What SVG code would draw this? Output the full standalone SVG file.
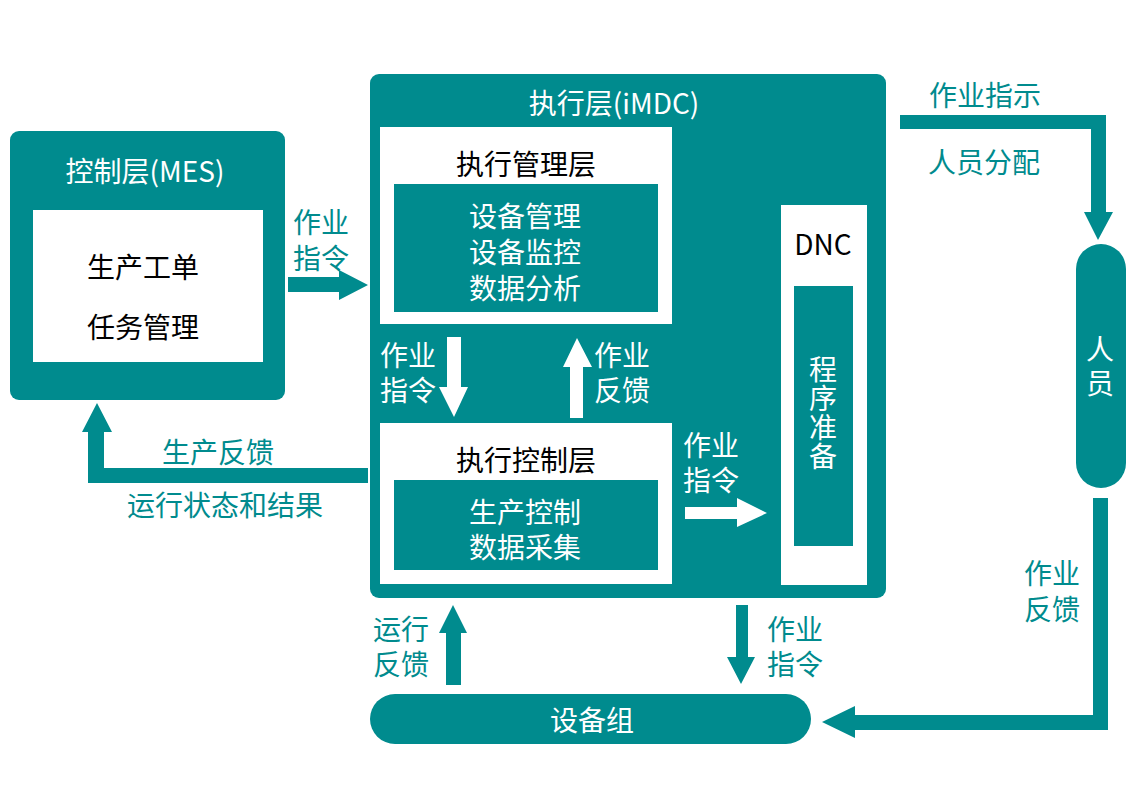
<svg xmlns="http://www.w3.org/2000/svg" width="1145" height="810" viewBox="0 0 1145 810">
<style>
.t{font-family:"Noto Sans CJK SC","Noto Sans",sans-serif;font-size:28px;text-anchor:middle;dominant-baseline:central}
.v{writing-mode:vertical-rl;letter-spacing:1px}
.w{fill:#ffffff}
.k{fill:#000000}
.c{fill:#008b8e}
.tf{fill:#008b8e}
.wf{fill:#ffffff}
</style>
<rect width="1145" height="810" fill="#ffffff"/>
<g id="mes">
<rect x="10" y="131" width="275" height="269" rx="9" class="tf"/>
<rect x="33" y="210" width="230" height="152" class="wf"/>
<text x="145" y="170" class="t w">控制层(MES)</text>
<text class="t k"><tspan x="143" y="266">生产工单</tspan><tspan x="143" y="326">任务管理</tspan></text>
</g>
<g id="imdc">
<rect x="370" y="74" width="516" height="524" rx="9" class="tf"/>
<text x="614" y="102" class="t w">执行层(iMDC)</text>
</g>
<g id="exec-mgmt">
<rect x="380" y="127" width="292" height="197" class="wf"/>
<rect x="394" y="184" width="264" height="128" class="tf"/>
<text x="526" y="163" class="t k">执行管理层</text>
<text class="t w"><tspan x="525" y="215">设备管理</tspan><tspan x="525" y="251">设备监控</tspan><tspan x="525" y="287">数据分析</tspan></text>
</g>
<g id="exec-ctrl">
<rect x="380" y="423" width="292" height="161" class="wf"/>
<rect x="394" y="480" width="264" height="90" class="tf"/>
<text x="526" y="459" class="t k">执行控制层</text>
<text class="t w"><tspan x="525" y="511">生产控制</tspan><tspan x="525" y="546">数据采集</tspan></text>
</g>
<g id="dnc">
<rect x="781" y="205" width="86" height="380" class="wf"/>
<rect x="794" y="286" width="59" height="260" class="tf"/>
<text x="823" y="243" class="t k">DNC</text>
<text x="823" y="413" class="t v w">程序准备</text>
</g>
<g id="person">
<rect x="1076" y="244" width="50" height="244" rx="25" class="tf"/>
<text x="1100" y="369" class="t w" style="writing-mode:vertical-rl;letter-spacing:6px">人员</text>
</g>
<g id="equipment">
<rect x="370" y="694" width="441" height="50" rx="25" class="tf"/>
<text x="592" y="719" class="t w">设备组</text>
</g>
<g id="connectors">
<polygon points="288,277 339,277 339,270 368,285 339,300 339,292 288,292" class="tf"/>
<text class="t c"><tspan x="321" y="221">作业</tspan><tspan x="321" y="257">指令</tspan></text>
<polygon points="368,468 368,483 88,483 88,432 82,432 97,403 112,432 104,432 104,468" class="tf"/>
<text x="218" y="451" class="t c">生产反馈</text>
<text x="225" y="504" class="t c">运行状态和结果</text>
<polygon points="447,337 461,337 461,387 468,387 454,417 439,387 447,387" class="wf"/>
<text class="t w"><tspan x="408" y="354">作业</tspan><tspan x="408" y="389">指令</tspan></text>
<polygon points="570,418 583,418 583,367 592,367 577,338 563,367 570,367" class="wf"/>
<text class="t w"><tspan x="622" y="354">作业</tspan><tspan x="622" y="389">反馈</tspan></text>
<polygon points="685,507 737,507 737,498 767,513 737,527 737,519 685,519" class="wf"/>
<text class="t w"><tspan x="711" y="444">作业</tspan><tspan x="711" y="479">指令</tspan></text>
<polygon points="900,115 1106,115 1106,212 1113,212 1098,240 1084,212 1091,212 1091,129 900,129" class="tf"/>
<text x="985" y="94" class="t c">作业指示</text>
<text x="984" y="161" class="t c">人员分配</text>
<polygon points="1093,498 1108,498 1108,730 855,730 855,738 822,722 855,706 855,715 1093,715" class="tf"/>
<text class="t c"><tspan x="1052" y="572">作业</tspan><tspan x="1052" y="608">反馈</tspan></text>
<polygon points="446,685 461,685 461,633 467,633 453,605 439,633 446,633" class="tf"/>
<text class="t c"><tspan x="401" y="628">运行</tspan><tspan x="401" y="663">反馈</tspan></text>
<polygon points="736,605 748,605 748,657 755,657 741,684 727,657 736,657" class="tf"/>
<text class="t c"><tspan x="795" y="628">作业</tspan><tspan x="795" y="663">指令</tspan></text>
</g>
</svg>
